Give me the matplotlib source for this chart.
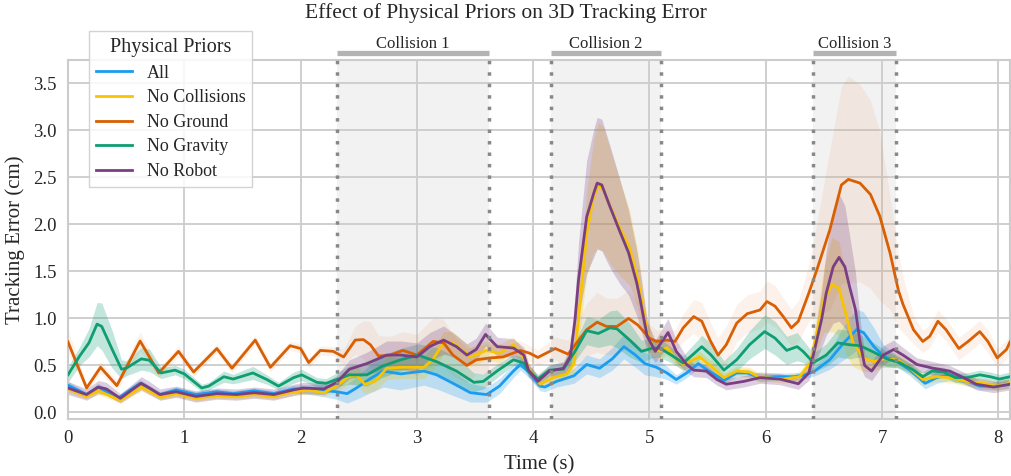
import matplotlib
matplotlib.use("Agg")
from matplotlib import pyplot as plt
import numpy as np

# --- data (time in s, error in cm) ---
series_names = ["All", "No Collisions", "No Ground", "No Gravity", "No Robot"]

blue_t = [0, 0.16, 0.26, 0.43, 0.62, 0.79, 0.93, 1.1, 1.28, 1.42,
          1.6, 1.77, 1.94, 2.14, 2.31, 2.4, 2.48, 2.6, 2.71, 2.86,
          3.06, 3.17, 3.31, 3.46, 3.6, 3.71, 3.83, 3.89, 3.97, 4.06,
          4.1, 4.2, 4.35, 4.46, 4.57, 4.68, 4.78, 4.88, 4.96, 5.06,
          5.15, 5.23, 5.32, 5.42, 5.5, 5.64, 5.75, 5.84, 5.95, 6.09,
          6.24, 6.34, 6.42, 6.55, 6.67, 6.78, 6.84, 6.93, 7.01, 7.13,
          7.24, 7.37, 7.47, 7.58, 7.7, 7.84, 7.98, 8.1]
blue_v = [0.29, 0.19, 0.27, 0.15, 0.31, 0.19, 0.24, 0.19, 0.22, 0.20,
          0.23, 0.20, 0.25, 0.24, 0.22, 0.20, 0.26, 0.36, 0.44, 0.41,
          0.44, 0.40, 0.31, 0.21, 0.19, 0.28, 0.44, 0.51, 0.42, 0.28,
          0.27, 0.33, 0.39, 0.51, 0.47, 0.57, 0.70, 0.61, 0.52, 0.48,
          0.42, 0.35, 0.42, 0.52, 0.45, 0.34, 0.42, 0.42, 0.37, 0.38,
          0.38, 0.40, 0.44, 0.56, 0.74, 0.88, 0.85, 0.70, 0.60, 0.54,
          0.45, 0.31, 0.37, 0.40, 0.35, 0.28, 0.28, 0.30]
blue_err = [0.04, 0.03, 0.04, 0.03, 0.04, 0.03, 0.03, 0.03, 0.03, 0.03,
            0.03, 0.03, 0.04, 0.06, 0.08, 0.10, 0.12, 0.15, 0.17, 0.17,
            0.15, 0.15, 0.13, 0.10, 0.08, 0.08, 0.07, 0.06, 0.06, 0.05,
            0.05, 0.06, 0.08, 0.10, 0.10, 0.12, 0.13, 0.13, 0.12, 0.10,
            0.07, 0.05, 0.05, 0.05, 0.05, 0.04, 0.04, 0.04, 0.04, 0.04,
            0.04, 0.04, 0.05, 0.10, 0.18, 0.22, 0.22, 0.20, 0.12, 0.06,
            0.06, 0.06, 0.06, 0.06, 0.05, 0.04, 0.04, 0.04]

yel_t = [0, 0.16, 0.26, 0.45, 0.63, 0.8, 0.93, 1.1, 1.28, 1.45,
         1.6, 1.77, 1.94, 2.08, 2.2, 2.31, 2.41, 2.48, 2.55, 2.64,
         2.74, 2.86, 3.06, 3.14, 3.23, 3.31, 3.46, 3.6, 3.71, 3.83,
         3.92, 3.97, 4.06, 4.17, 4.29, 4.35, 4.39, 4.46, 4.52, 4.56,
         4.6, 4.67, 4.75, 4.83, 4.9, 4.98, 5.03, 5.09, 5.15, 5.22,
         5.29, 5.43, 5.53, 5.64, 5.75, 5.86, 5.95, 6.01, 6.15, 6.29,
         6.38, 6.44, 6.5, 6.57, 6.63, 6.7, 6.75, 6.84, 6.93, 7.01,
         7.13, 7.24, 7.35, 7.47, 7.58, 7.73, 7.87, 7.98, 8.1]
yel_v = [0.25, 0.17, 0.23, 0.13, 0.27, 0.16, 0.20, 0.15, 0.18, 0.17,
         0.19, 0.17, 0.22, 0.235, 0.21, 0.28, 0.38, 0.40, 0.30, 0.33,
         0.47, 0.48, 0.48, 0.57, 0.74, 0.74, 0.59, 0.66, 0.63, 0.72,
         0.58, 0.45, 0.30, 0.37, 0.41, 0.52, 1.00, 1.90, 2.30, 2.41,
         2.38, 2.17, 1.95, 1.75, 1.42, 0.85, 0.69, 0.65, 0.69, 0.58,
         0.51, 0.59, 0.49, 0.37, 0.44, 0.43, 0.37, 0.37, 0.355, 0.38,
         0.52, 0.85, 1.20, 1.36, 1.32, 0.99, 0.74, 0.58, 0.54, 0.57,
         0.56, 0.47, 0.35, 0.38, 0.37, 0.33, 0.31, 0.28, 0.31]
yel_err = [0.04, 0.03, 0.04, 0.03, 0.04, 0.03, 0.03, 0.03, 0.03, 0.03,
           0.03, 0.03, 0.04, 0.04, 0.04, 0.06, 0.08, 0.10, 0.10, 0.10,
           0.12, 0.12, 0.12, 0.12, 0.12, 0.12, 0.10, 0.10, 0.10, 0.08,
           0.07, 0.06, 0.05, 0.06, 0.06, 0.10, 0.25, 0.45, 0.60, 0.67,
           0.67, 0.60, 0.50, 0.40, 0.30, 0.15, 0.10, 0.08, 0.08, 0.07,
           0.06, 0.06, 0.06, 0.05, 0.05, 0.05, 0.05, 0.04, 0.04, 0.05,
           0.08, 0.20, 0.35, 0.50, 0.50, 0.40, 0.25, 0.15, 0.10, 0.08,
           0.07, 0.06, 0.06, 0.05, 0.05, 0.05, 0.05, 0.05, 0.05]

org_t = [0, 0.16, 0.28, 0.42, 0.62, 0.78, 0.95, 1.08, 1.28, 1.41,
         1.61, 1.74, 1.91, 2.0, 2.07, 2.17, 2.28, 2.37, 2.47, 2.54,
         2.6, 2.67, 2.77, 2.88, 3.0, 3.14, 3.23, 3.31, 3.43, 3.51,
         3.63, 3.74, 3.89, 3.97, 4.04, 4.19, 4.3, 4.46, 4.55, 4.63,
         4.72, 4.82, 4.9, 5.0, 5.06, 5.15, 5.22, 5.29, 5.38, 5.45,
         5.52, 5.59, 5.66, 5.75, 5.84, 5.95, 6.01, 6.08, 6.15, 6.22,
         6.28, 6.37, 6.44, 6.55, 6.65, 6.71, 6.81, 6.9, 6.98, 7.07,
         7.14, 7.18, 7.27, 7.35, 7.41, 7.48, 7.55, 7.66, 7.74, 7.84,
         7.91, 7.99, 8.07, 8.1]
org_v = [0.75, 0.26, 0.48, 0.285, 0.76, 0.42, 0.65, 0.43, 0.68, 0.47,
         0.77, 0.48, 0.71, 0.68, 0.53, 0.66, 0.65, 0.59, 0.77, 0.775,
         0.72, 0.60, 0.61, 0.66, 0.61, 0.755, 0.74, 0.61, 0.50, 0.56,
         0.58, 0.59, 0.66, 0.63, 0.585, 0.68, 0.62, 0.88, 0.96, 0.915,
         0.915, 1.0, 0.93, 0.79, 0.755, 0.77, 0.755, 0.90, 1.02, 0.97,
         0.77, 0.61, 0.72, 0.95, 1.05, 1.09, 1.18, 1.13, 1.02, 0.90,
         0.97, 1.27, 1.52, 1.94, 2.42, 2.48, 2.44, 2.32, 2.09, 1.69,
         1.30, 1.15, 0.88, 0.755, 0.81, 0.97, 0.88, 0.68, 0.755, 0.86,
         0.755, 0.58, 0.67, 0.75]
org_err = [0.12, 0.05, 0.06, 0.05, 0.10, 0.05, 0.06, 0.05, 0.05, 0.05,
           0.05, 0.05, 0.05, 0.05, 0.05, 0.05, 0.05, 0.08, 0.15, 0.20,
           0.25, 0.22, 0.20, 0.20, 0.22, 0.25, 0.25, 0.22, 0.18, 0.15,
           0.15, 0.12, 0.10, 0.08, 0.08, 0.12, 0.15, 0.28, 0.32, 0.30,
           0.30, 0.30, 0.25, 0.15, 0.12, 0.12, 0.12, 0.15, 0.18, 0.20,
           0.20, 0.18, 0.20, 0.20, 0.20, 0.20, 0.22, 0.22, 0.20, 0.20,
           0.22, 0.30, 0.50, 0.85, 1.05, 1.10, 1.05, 1.00, 0.90, 0.60,
           0.40, 0.30, 0.15, 0.12, 0.12, 0.12, 0.12, 0.12, 0.12, 0.12,
           0.12, 0.10, 0.10, 0.10]

grn_t = [0, 0.1, 0.18, 0.25, 0.29, 0.38, 0.46, 0.5, 0.63, 0.7,
         0.8, 0.92, 1.0, 1.15, 1.21, 1.34, 1.42, 1.59, 1.71, 1.81,
         1.94, 2.01, 2.14, 2.22, 2.31, 2.42, 2.57, 2.7, 2.86, 3.01,
         3.17, 3.34, 3.49, 3.57, 3.7, 3.83, 3.92, 3.96, 4.04, 4.14,
         4.26, 4.36, 4.46, 4.56, 4.66, 4.72, 4.83, 4.93, 5.03, 5.09,
         5.2, 5.29, 5.45, 5.53, 5.64, 5.75, 5.86, 5.99, 6.08, 6.18,
         6.27, 6.32, 6.41, 6.52, 6.62, 6.72, 6.81, 6.93, 7.04, 7.15,
         7.27, 7.35, 7.43, 7.53, 7.63, 7.73, 7.84, 7.93, 8.01, 8.1]
grn_v = [0.40, 0.60, 0.74, 0.94, 0.915, 0.67, 0.46, 0.47, 0.57, 0.555,
         0.42, 0.45, 0.41, 0.26, 0.28, 0.38, 0.355, 0.42, 0.35, 0.28,
         0.37, 0.40, 0.32, 0.31, 0.35, 0.40, 0.40, 0.49, 0.56, 0.61,
         0.54, 0.44, 0.32, 0.33, 0.45, 0.56, 0.525, 0.44, 0.355, 0.45,
         0.46, 0.65, 0.87, 0.84, 0.90, 0.89, 0.77, 0.65, 0.685, 0.685,
         0.60, 0.525, 0.70, 0.61, 0.45, 0.56, 0.72, 0.86, 0.79, 0.66,
         0.70, 0.65, 0.53, 0.61, 0.74, 0.72, 0.71, 0.64, 0.57, 0.53,
         0.45, 0.38, 0.44, 0.43, 0.37, 0.37, 0.40, 0.38, 0.355, 0.38]
grn_err = [0.08, 0.10, 0.15, 0.23, 0.25, 0.20, 0.10, 0.08, 0.12, 0.12,
           0.06, 0.05, 0.05, 0.04, 0.04, 0.06, 0.05, 0.07, 0.05, 0.04,
           0.06, 0.06, 0.05, 0.05, 0.07, 0.10, 0.12, 0.12, 0.12, 0.12,
           0.15, 0.15, 0.10, 0.08, 0.07, 0.06, 0.06, 0.06, 0.05, 0.06,
           0.07, 0.10, 0.15, 0.15, 0.18, 0.20, 0.18, 0.12, 0.10, 0.10,
           0.08, 0.08, 0.12, 0.12, 0.10, 0.12, 0.15, 0.18, 0.18, 0.15,
           0.15, 0.12, 0.10, 0.12, 0.15, 0.15, 0.12, 0.10, 0.08, 0.06,
           0.05, 0.05, 0.05, 0.05, 0.05, 0.05, 0.05, 0.05, 0.05, 0.05]

pur_t = [0, 0.16, 0.26, 0.33, 0.45, 0.55, 0.63, 0.7, 0.79, 0.93,
         1.1, 1.28, 1.45, 1.6, 1.77, 1.94, 2.02, 2.2, 2.31, 2.42,
         2.57, 2.74, 2.86, 3.0, 3.11, 3.23, 3.34, 3.43, 3.51, 3.59,
         3.69, 3.83, 3.92, 3.96, 4.04, 4.14, 4.26, 4.32, 4.36, 4.39,
         4.46, 4.52, 4.55, 4.59, 4.66, 4.75, 4.82, 4.89, 4.92, 4.98,
         5.05, 5.16, 5.23, 5.32, 5.38, 5.49, 5.58, 5.66, 5.81, 5.95,
         6.12, 6.28, 6.37, 6.42, 6.48, 6.52, 6.58, 6.63, 6.68, 6.72,
         6.77, 6.81, 6.85, 6.91, 7.01, 7.1, 7.18, 7.3, 7.44, 7.58,
         7.7, 7.81, 7.96, 8.1]
pur_v = [0.26, 0.19, 0.27, 0.25, 0.15, 0.24, 0.31, 0.26, 0.19, 0.22,
         0.17, 0.20, 0.19, 0.21, 0.19, 0.24, 0.26, 0.25, 0.32, 0.46,
         0.52, 0.61, 0.61, 0.59, 0.70, 0.77, 0.70, 0.61, 0.67, 0.83,
         0.70, 0.685, 0.61, 0.45, 0.33, 0.44, 0.47, 0.60, 0.99, 1.41,
         2.08, 2.33, 2.44, 2.42, 2.19, 1.91, 1.70, 1.38, 1.20, 0.81,
         0.65, 0.85, 0.65, 0.51, 0.45, 0.44, 0.35, 0.30, 0.33, 0.37,
         0.355, 0.305, 0.42, 0.67, 0.99, 1.27, 1.55, 1.65, 1.55, 1.34,
         1.10, 0.75, 0.50, 0.44, 0.61, 0.67, 0.61, 0.51, 0.47, 0.44,
         0.37, 0.30, 0.27, 0.30]
pur_err = [0.07, 0.06, 0.07, 0.07, 0.05, 0.06, 0.07, 0.07, 0.06, 0.06,
           0.06, 0.06, 0.06, 0.06, 0.06, 0.06, 0.06, 0.06, 0.07, 0.10,
           0.12, 0.15, 0.15, 0.15, 0.15, 0.15, 0.12, 0.12, 0.12, 0.12,
           0.10, 0.10, 0.08, 0.07, 0.06, 0.06, 0.07, 0.10, 0.25, 0.40,
           0.60, 0.68, 0.70, 0.70, 0.65, 0.55, 0.45, 0.35, 0.30, 0.15,
           0.12, 0.15, 0.12, 0.08, 0.07, 0.07, 0.06, 0.06, 0.06, 0.06,
           0.06, 0.06, 0.08, 0.15, 0.30, 0.45, 0.60, 0.68, 0.65, 0.55,
           0.40, 0.25, 0.12, 0.10, 0.10, 0.10, 0.08, 0.07, 0.07, 0.06,
           0.06, 0.06, 0.06, 0.06]

collision_names = ["Collision 1", "Collision 2", "Collision 3"]
collision_start = [2.31, 4.15, 6.41]
collision_end = [3.62, 5.10, 7.12]

colors = ["#1a9cf0", "#f8c400", "#d95f02", "#0f9d72", "#7a3f82"]
band_alpha = [0.25, 0.25, 0.08, 0.25, 0.25]

# --- figure ---
plt.rcParams['font.family'] = ['Liberation Serif', 'DejaVu Serif']
plt.rcParams['text.color'] = '#262626'
plt.rcParams['axes.labelcolor'] = '#262626'
plt.rcParams['xtick.color'] = '#262626'
plt.rcParams['ytick.color'] = '#262626'

fig = plt.figure(figsize=(10.11, 4.76), dpi=100)
ax = fig.add_axes([68/1011, 57/476, 942/1011, 359/476])

data = [(blue_t, blue_v, blue_err), (yel_t, yel_v, yel_err), (org_t, org_v, org_err),
        (grn_t, grn_v, grn_err), (pur_t, pur_v, pur_err)]

for (t, v, e), c, a in zip(data, colors, band_alpha):
    t = np.array(t); v = np.array(v); e = np.array(e)
    ax.fill_between(t, v - e, v + e, color=c, alpha=a, lw=0, zorder=2)

for (t, v, e), c, name in zip(data, colors, series_names):
    ax.plot(t, v, color=c, lw=2.0, label=name, zorder=3, solid_joinstyle='round')

for name, x0, x1 in zip(collision_names, collision_start, collision_end):
    ax.axvspan(x0, x1, color='#f2f2f2', lw=0, zorder=0.2)
    for xx in (x0, x1):
        ax.axvline(xx, color='#888888', lw=2.5, linestyle=(0, (1, 2.3)), zorder=4)
    ax.plot([x0, x1], [1.02, 1.02], transform=ax.get_xaxis_transform(),
            color='#b3b3b3', lw=3.8, solid_capstyle='butt', clip_on=False)
    ax.text((x0 + x1) / 2, 1.045, name, transform=ax.get_xaxis_transform(),
            ha='center', va='center', fontsize=12)

ax.set_xlim(0, 8.1)
ax.set_ylim(-0.07, 3.75)
ax.set_xticks(range(0, 9))
ax.set_yticks(np.arange(0, 3.51, 0.5))
ax.set_yticklabels(["%.1f" % y for y in np.arange(0, 3.51, 0.5)])
ax.tick_params(length=0, labelsize=13.5, pad=8)
ax.set_axisbelow(True)
ax.grid(True, color='#cccccc', lw=1.3)
for s in ax.spines.values():
    s.set_color('#cccccc')
    s.set_linewidth(1.5)

ax.set_xlabel("Time (s)", fontsize=15, labelpad=6)
ax.set_ylabel("Tracking Error (cm)", fontsize=15, labelpad=6)
fig.suptitle("Effect of Physical Priors on 3D Tracking Error", fontsize=15.5, y=0.972, va='center')

leg = ax.legend(title="Physical Priors", loc='upper left', bbox_to_anchor=(0.022, 1.081),
                fontsize=13, title_fontsize=14.5, labelspacing=0.42, borderaxespad=0,
                fancybox=False, framealpha=0.85, edgecolor='#cccccc')
leg.set_zorder(10)

plt.savefig('out.png', dpi=100)
